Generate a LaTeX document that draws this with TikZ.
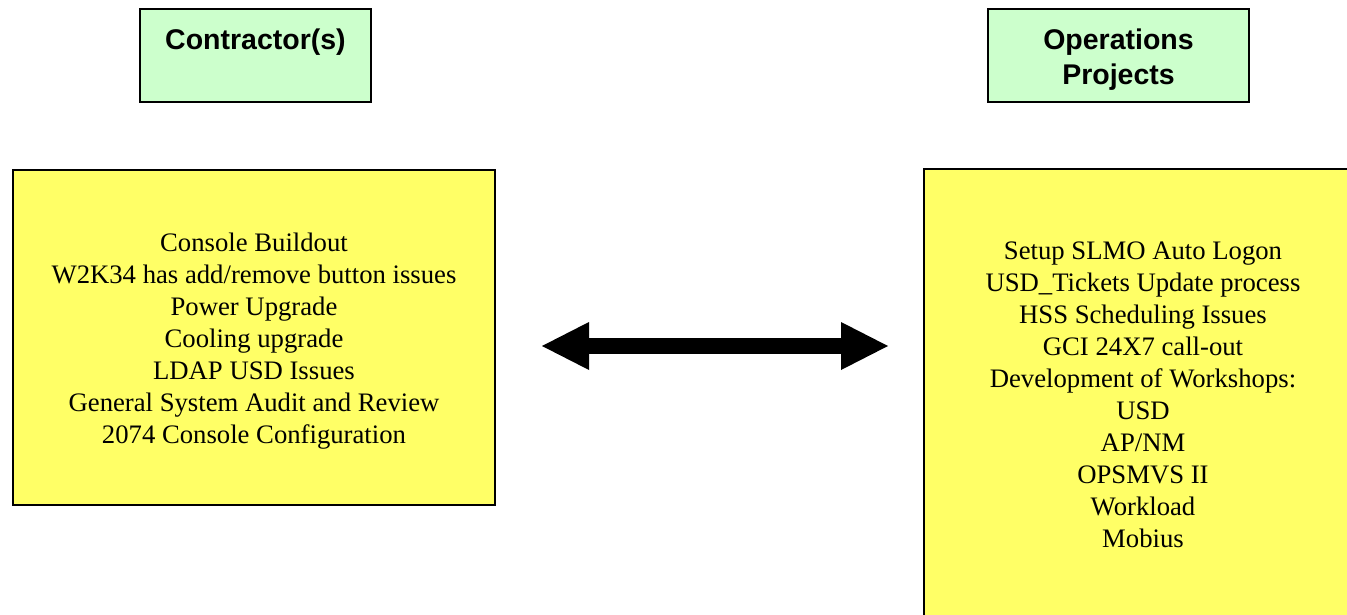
\documentclass[tikz,border=0pt]{standalone}
\usepackage{fontspec}
\setmainfont{Liberation Serif}
\newfontfamily\bodyfont{Liberation Serif}[Ligatures=TeX]
\newfontfamily\headfont{Liberation Sans}
\usetikzlibrary{arrows.meta}
\definecolor{boxgreen}{HTML}{CCFFCC}
\definecolor{boxyellow}{HTML}{FFFF66}
\tikzset{
  headbox/.style={draw=black, line width=2pt, fill=boxgreen, inner sep=0pt},
  listbox/.style={draw=black, line width=2pt, fill=boxyellow, inner sep=0pt},
  headtext/.style={font=\headfont\bfseries\fontsize{28.5}{35}\selectfont, align=center, inner sep=0pt},
  listtext/.style={font=\bodyfont\fontsize{26.7}{32}\selectfont, align=center, inner sep=0pt},
  dblarrow/.style={line width=16pt, {Triangle[length=47pt,width=48pt,line width=0pt]}-{Triangle[length=47pt,width=48pt,line width=0pt]}}
}
\begin{document}
\begin{tikzpicture}[x=1pt,y=-1pt]
\useasboundingbox (0,0) rectangle (1347,615);
% header boxes
\node[headbox, minimum width=231pt, minimum height=93pt] (contr) at (255.5,55.5) {};
\node[headtext, anchor=base] (contrlabel) at (255.5,49.5) {Contractor(s)};
\node[headbox, minimum width=261pt, minimum height=93pt] (ops) at (1118.5,55.5) {};
\node[headtext] (opslabel) at (1118.5,59.8) {Operations\\Projects};
% list boxes
\node[listbox, minimum width=482pt, minimum height=335pt] (left) at (254,337.5) {};
\node[listtext] (leftlist) at (254,340.7) {Console Buildout\\W2K34 has add/remove button issues\\Power Upgrade\\Cooling upgrade\\LDAP USD Issues\\General System Audit and Review\\2074 Console Configuration};
\node[listbox, minimum width=438pt, minimum height=450pt] (right) at (1143,394) {};
\node[listtext] (rightlist) at (1143,394.4) {Setup SLMO Auto Logon\\USD\_Tickets Update process\\HSS Scheduling Issues\\GCI 24X7 call-out\\Development of Workshops:\\USD\\AP/NM\\OPSMVS II\\Workload\\Mobius};
% double arrow
\coordinate (al) at (542,346);
\coordinate (ar) at (888,346);
\draw[dblarrow] (al) -- (ar);
\end{tikzpicture}
\end{document}
